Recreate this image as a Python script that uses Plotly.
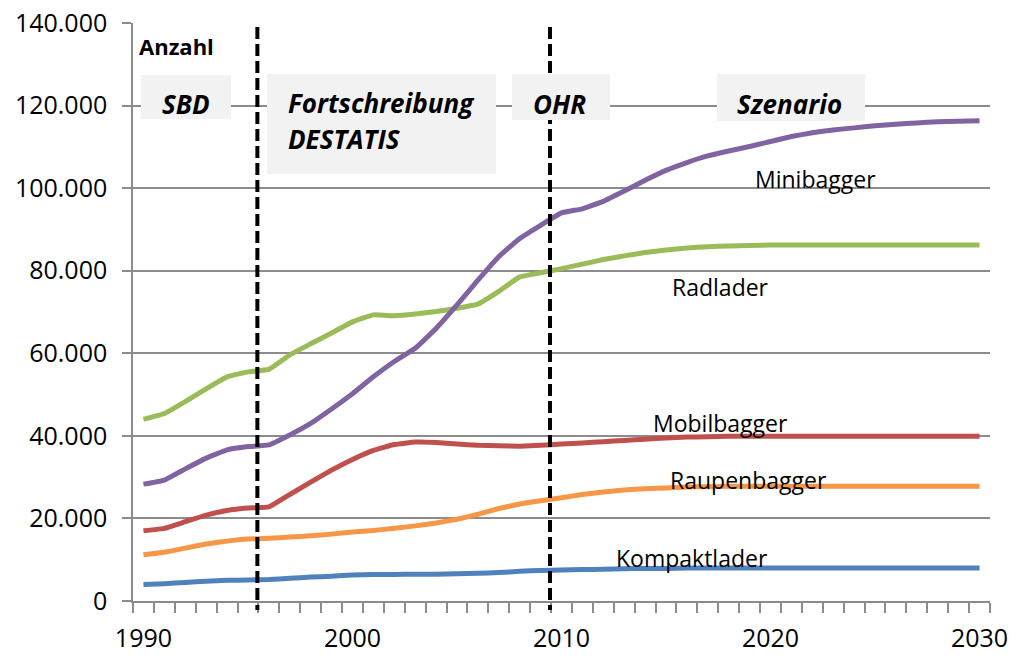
import plotly.graph_objects as go

years = list(range(1990, 2031))

kompaktlader = [4000, 4200, 4500, 4800, 5000, 5100, 5200, 5500, 5800, 6000,
                6300, 6400, 6400, 6500, 6500, 6600, 6700, 6900, 7200, 7400,
                7500, 7600, 7700, 7800, 7900, 7900, 8000, 8000, 8000, 8000,
                8000, 8000, 8000, 8000, 8000, 8000, 8000, 8000, 8000, 8000, 8000]

raupenbagger = [11200, 11800, 12800, 13800, 14500, 15000, 15200, 15500, 15800, 16200,
                16700, 17100, 17600, 18200, 18900, 19800, 21000, 22400, 23500, 24300,
                25000, 25800, 26400, 26900, 27200, 27400, 27600, 27700, 27800, 27800,
                27800, 27800, 27800, 27800, 27800, 27800, 27800, 27800, 27800, 27800, 27800]

mobilbagger = [17000, 17600, 19200, 20800, 21900, 22500, 22800, 25800, 28800, 31700,
               34300, 36500, 37900, 38500, 38400, 38000, 37700, 37600, 37500, 37700,
               38000, 38300, 38600, 38900, 39200, 39500, 39700, 39800, 39900, 39900,
               39900, 39900, 39900, 39900, 39900, 39900, 39900, 39900, 39900, 39900, 39900]

radlader = [44000, 45400, 48300, 51400, 54300, 55500, 56100, 59600, 62300, 64900,
            67600, 69300, 69100, 69500, 70100, 70900, 71900, 75000, 78500, 79500,
            80500, 81600, 82700, 83600, 84400, 85000, 85500, 85800, 86000, 86100,
            86200, 86200, 86200, 86200, 86200, 86200, 86200, 86200, 86200, 86200, 86200]

minibagger = [28300, 29300, 32000, 34600, 36600, 37400, 37800, 40200, 43000, 46500,
              50200, 54300, 58000, 61200, 66000, 71700, 77700, 83400, 87800, 91000,
              94000, 95000, 96800, 99300, 101900, 104300, 106200, 107800, 109000, 110100,
              111300, 112500, 113400, 114100, 114600, 115100, 115500, 115800, 116100, 116200, 116300]

series = [
    ("Kompaktlader", kompaktlader, "#4F81BD"),
    ("Raupenbagger", raupenbagger, "#F79646"),
    ("Mobilbagger", mobilbagger, "#C0504D"),
    ("Radlader", radlader, "#9BBB59"),
    ("Minibagger", minibagger, "#8064A2"),
]

# period boundaries (between yearly categories)
period_breaks = [1995.45, 2009.45]

# plot-area geometry in pixels, used to place boxes and labels
W, H, L, B = 857.0, 578.0, 133.0, 601.0


def px(x):
    return (x - L) / W


def py(y):
    return (B - y) / H


FONT = "Open Sans"

fig = go.Figure()
for name, vals, col in series:
    fig.add_trace(go.Scatter(
        x=years, y=vals, mode="lines", name=name,
        line=dict(color=col, width=5, shape="spline", smoothing=0.3),
        showlegend=False, hoverinfo="x+y+name",
    ))

shapes = []
for xb in period_breaks:
    shapes.append(dict(type="line", xref="x", yref="paper", x0=xb, x1=xb,
                       y0=py(27), y1=py(610), layer="above",
                       line=dict(color="black", width=4, dash="12px,5px")))

boxes = [
    (141, 231, 75, 119),
    (267, 496, 74, 174),
    (512, 610, 74, 120),
    (717, 865, 74, 121),
]
for x0, x1, y0, y1 in boxes:
    shapes.append(dict(type="rect", xref="paper", yref="paper",
                       x0=px(x0), x1=px(x1), y0=py(y1), y1=py(y0),
                       fillcolor="#F2F2F2", line=dict(width=0), layer="above"))

annotations = []
box_texts = [
    ("SBD", 186, 104, "center"),
    ("Fortschreibung", 286, 103, "left"),
    ("DESTATIS", 286, 139, "left"),
    ("OHR", 559, 104, "center"),
    ("Szenario", 789, 104, "center"),
]
for txt, x, y, anchor in box_texts:
    annotations.append(dict(
        text=f"<b><i>{txt}</i></b>", xref="paper", yref="paper",
        x=px(x), y=py(y), xanchor=anchor, yanchor="middle", showarrow=False,
        font=dict(family=FONT, size=26, color="black")))

annotations.append(dict(
    text="<b>Anzahl</b>", xref="paper", yref="paper", x=px(137), y=py(46),
    xanchor="left", yanchor="middle", showarrow=False,
    font=dict(family=FONT, size=22, color="black")))

series_labels = [
    ("Minibagger", 815, 179),
    ("Radlader", 720, 287),
    ("Mobilbagger", 720, 423),
    ("Raupenbagger", 748, 480),
    ("Kompaktlader", 692, 558),
]
for txt, x, y in series_labels:
    annotations.append(dict(
        text=txt, xref="paper", yref="paper", x=px(x), y=py(y),
        xanchor="center", yanchor="middle", showarrow=False,
        font=dict(family=FONT, size=23, color="black")))

fig.update_layout(
    width=1014, height=656,
    margin=dict(l=133, r=24, t=23, b=55),
    paper_bgcolor="white", plot_bgcolor="white",
    separators=",.",
    font=dict(family=FONT, size=25, color="black"),
    shapes=shapes, annotations=annotations,
    xaxis=dict(
        range=[1989.5, 2030.5], tickmode="array",
        tickvals=[1990, 2000, 2010, 2020, 2030],
        ticktext=["1990", "2000", "2010", "2020", "2030"],
        ticks="", showgrid=False, zeroline=False, automargin=False,
        showline=True, linecolor="#8C8C8C", linewidth=1.5,
        ticklabelstandoff=14,
        minor=dict(ticks="outside", ticklen=10, tick0=1989.5, dtick=1,
                   tickcolor="#8C8C8C", tickwidth=1.5, showgrid=False),
        tickfont=dict(family=FONT, size=25),
    ),
    yaxis=dict(
        range=[0, 140000], tickmode="linear", tick0=0, dtick=20000,
        tickformat=",d", ticks="outside", ticklen=9, tickcolor="#8C8C8C",
        tickwidth=1.5, showgrid=True, gridcolor="#8C8C8C", gridwidth=1.5,
        zeroline=False, showline=True, linecolor="#8C8C8C", linewidth=1.5,
        ticklabelstandoff=10, automargin=False,
        tickfont=dict(family=FONT, size=25),
    ),
)

fig.write_html("out.html")
